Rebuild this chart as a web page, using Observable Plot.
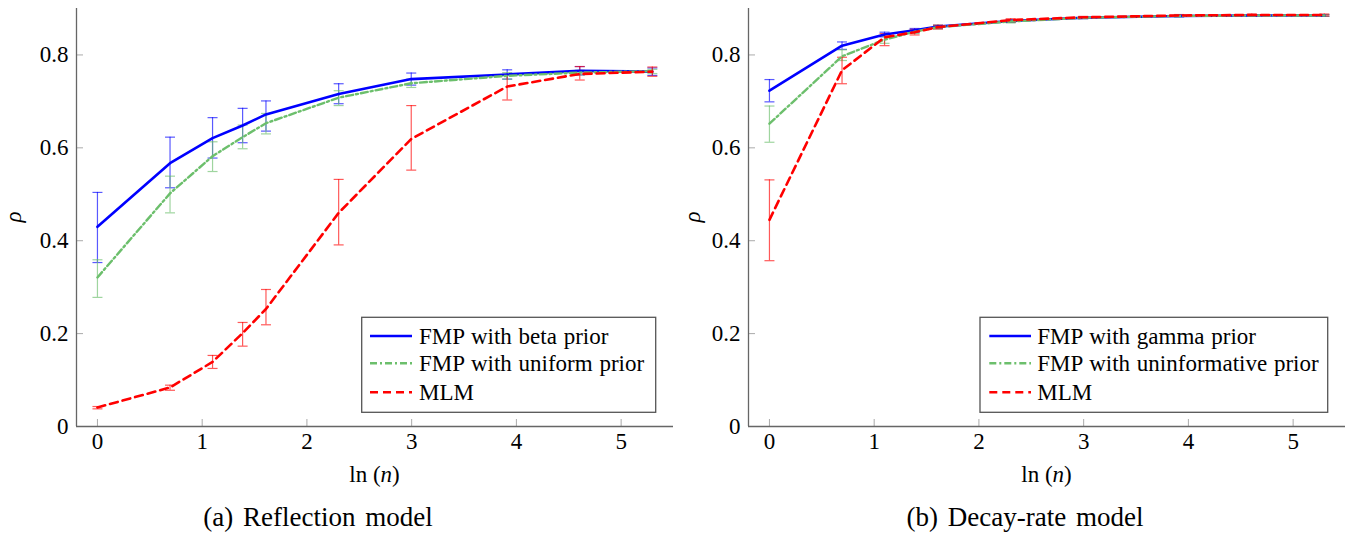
<!DOCTYPE html>
<html><head><meta charset="utf-8">
<script src="https://cdn.jsdelivr.net/npm/d3@7"></script>
<script src="https://cdn.jsdelivr.net/npm/@observablehq/plot@0.6"></script>
<style>
body{margin:0;background:#fff;}
#wrap{position:relative;width:1350px;height:533px;overflow:hidden;font-family:"Liberation Serif","Times New Roman",Times,"DejaVu Serif",serif;}
.panel{position:absolute;top:0;}
#overlay{position:absolute;left:0;top:0;}
svg text{font-family:"Liberation Serif","Times New Roman",Times,"DejaVu Serif",serif;}
</style></head><body>
<div id="wrap">
<div id="pa" class="panel" style="left:0px"></div>
<div id="pb" class="panel" style="left:675px"></div>
<svg id="overlay" width="1350" height="533"></svg>
</div>
<script>
// ---- data ----
const xLn = [0, 0.693, 1.099, 1.386, 1.609, 2.303, 2.996, 3.912, 4.605, 5.298]; // ln(n), n = 1,2,3,4,5,10,20,50,100,200
const xTicks = [0, 1, 2, 3, 4, 5];
const yTicks = [0, 0.2, 0.4, 0.6, 0.8];
const yTickLabels = ["0", "0.2", "0.4", "0.6", "0.8"];
const xDomain = [-0.2, 5.5];
const yDomain = [0, 0.9];

// (a) Reflection model
const reflNames = ["FMP with beta prior", "FMP with uniform prior", "MLM"];
const reflBeta    = [0.430, 0.567, 0.621, 0.648, 0.672, 0.716, 0.748, 0.758, 0.766, 0.764];
const reflBetaLo  = [0.353, 0.514, 0.578, 0.611, 0.636, 0.695, 0.735, 0.748, 0.757, 0.756];
const reflBetaHi  = [0.504, 0.623, 0.665, 0.685, 0.701, 0.738, 0.761, 0.768, 0.775, 0.772];
const reflUnif    = [0.321, 0.502, 0.582, 0.623, 0.653, 0.708, 0.739, 0.755, 0.762, 0.765];
const reflUnifLo  = [0.278, 0.460, 0.549, 0.598, 0.630, 0.691, 0.730, 0.748, 0.757, 0.760];
const reflUnifHi  = [0.359, 0.539, 0.613, 0.649, 0.674, 0.723, 0.748, 0.762, 0.767, 0.769];
const reflMLM     = [0.041, 0.084, 0.139, 0.201, 0.253, 0.460, 0.619, 0.732, 0.759, 0.764];
const reflMLMLo   = [0.038, 0.078, 0.125, 0.173, 0.219, 0.391, 0.552, 0.703, 0.746, 0.754];
const reflMLMHi   = [0.043, 0.089, 0.153, 0.224, 0.295, 0.532, 0.691, 0.758, 0.775, 0.774];

// (b) Decay-rate model
const decayNames = ["FMP with gamma prior", "FMP with uninformative prior", "MLM"];
const decayGamma   = [0.723, 0.820, 0.844, 0.853, 0.861, 0.873, 0.880, 0.884, 0.885, 0.885];
const decayGammaLo = [0.699, 0.812, 0.839, 0.848, 0.857, 0.870, 0.878, 0.882, 0.883, 0.883];
const decayGammaHi = [0.747, 0.828, 0.849, 0.857, 0.864, 0.876, 0.882, 0.886, 0.887, 0.887];
const decayUninf   = [0.652, 0.797, 0.833, 0.850, 0.860, 0.872, 0.880, 0.884, 0.885, 0.885];
const decayUninfLo = [0.612, 0.788, 0.825, 0.846, 0.856, 0.869, 0.878, 0.882, 0.883, 0.883];
const decayUninfHi = [0.690, 0.811, 0.840, 0.854, 0.864, 0.875, 0.882, 0.886, 0.887, 0.887];
const decayMLM     = [0.445, 0.767, 0.838, 0.849, 0.860, 0.875, 0.881, 0.885, 0.886, 0.886];
const decayMLMLo   = [0.357, 0.738, 0.820, 0.843, 0.856, 0.871, 0.879, 0.883, 0.884, 0.884];
const decayMLMHi   = [0.531, 0.795, 0.846, 0.855, 0.864, 0.878, 0.883, 0.887, 0.888, 0.888];

const captions = ["(a) Reflection model", "(b) Decay-rate model"];

// ---- styles ----
const FONT = '"Liberation Serif", "Times New Roman", Times, "DejaVu Serif", serif';
const styles = [
  {color: "#0000ff", dash: null, width: 2.6},
  {color: "#6cbf6c", dash: "7,3,2,3", width: 2.4},
  {color: "#ff0000", dash: "8,5", width: 2.6}
];

const cap = {draw(ctx, size) { const r = Math.sqrt(size / Math.PI); ctx.moveTo(-r, 0); ctx.lineTo(r, 0); }};

function makePanel(series, opts) {
  const marks = [];
  series.forEach((s, k) => {
    const st = styles[k];
    const rows = xLn.map((x, i) => ({x, y: s.y[i], lo: s.lo[i], hi: s.hi[i]}));
    marks.push(Plot.ruleX(rows, {x: "x", y1: "lo", y2: "hi", stroke: st.color, strokeOpacity: 0.65, strokeWidth: 1.2}));
    marks.push(Plot.dot(rows, {x: "x", y: "lo", symbol: cap, r: 5, fill: "none", stroke: st.color, strokeOpacity: 0.65, strokeWidth: 1.2}));
    marks.push(Plot.dot(rows, {x: "x", y: "hi", symbol: cap, r: 5, fill: "none", stroke: st.color, strokeOpacity: 0.65, strokeWidth: 1.2}));
  });
  series.forEach((s, k) => {
    const st = styles[k];
    const rows = xLn.map((x, i) => ({x, y: s.y[i]}));
    marks.push(Plot.line(rows, {x: "x", y: "y", stroke: st.color, strokeWidth: st.width, strokeDasharray: st.dash}));
  });
  marks.push(Plot.axisX({ticks: xTicks, tickSize: -7, tickPadding: 13, stroke: "#aaa", fill: "black", fontSize: 23, label: null, tickFormat: d => String(d)}));
  marks.push(Plot.axisY({ticks: yTicks, tickSize: -7, tickPadding: 15, stroke: "#aaa", fill: "black", fontSize: 23, label: null, tickFormat: d => yTickLabels[yTicks.indexOf(d)]}));
  marks.push(Plot.ruleX([xDomain[0]], {stroke: "#666", strokeWidth: 1.3}));
  marks.push(Plot.ruleY([yDomain[0]], {stroke: "#666", strokeWidth: 1.3}));
  return Plot.plot({
    width: opts.width, height: 490,
    marginLeft: opts.ml, marginRight: opts.mr, marginTop: 8, marginBottom: 64,
    x: {domain: xDomain},
    y: {domain: yDomain},
    style: {fontFamily: FONT, fontSize: "23px", background: "transparent", overflow: "visible", color: "black"},
    marks
  });
}

const panelA = makePanel([
  {y: reflBeta, lo: reflBetaLo, hi: reflBetaHi},
  {y: reflUnif, lo: reflUnifLo, hi: reflUnifHi},
  {y: reflMLM, lo: reflMLMLo, hi: reflMLMHi}
], {width: 690, ml: 76, mr: 17});
document.getElementById("pa").appendChild(panelA);

const panelB = makePanel([
  {y: decayGamma, lo: decayGammaLo, hi: decayGammaHi},
  {y: decayUninf, lo: decayUninfLo, hi: decayUninfHi},
  {y: decayMLM, lo: decayMLMLo, hi: decayMLMHi}
], {width: 675, ml: 73, mr: 5});
document.getElementById("pb").appendChild(panelB);

// ---- overlay: labels, legends, captions ----
const ov = d3.select("#overlay").style("font-family", FONT);

const layout = [
  {names: reflNames, box: [361.7, 317.3, 294, 95], lineX: [370, 412], textX: 419, xlabX: 374.5, rhoX: 15, capX: 318},
  {names: decayNames, box: [980, 317.3, 347.7, 95], lineX: [989.3, 1031], textX: 1037.3, xlabX: 1046.5, rhoX: 694, capX: 1025}
];
const rowLineY = [336, 363.3, 392.3];
const rowTextY = [343.5, 371.2, 399.5];

layout.forEach((L, p) => {
  ov.append("rect").attr("x", L.box[0]).attr("y", L.box[1]).attr("width", L.box[2]).attr("height", L.box[3])
    .attr("fill", "white").attr("stroke", "#555").attr("stroke-width", 1.3);
  L.names.forEach((name, k) => {
    const st = styles[k];
    ov.append("line").attr("x1", L.lineX[0]).attr("x2", L.lineX[1]).attr("y1", rowLineY[k]).attr("y2", rowLineY[k])
      .attr("stroke", st.color).attr("stroke-width", st.width).attr("stroke-dasharray", st.dash);
    ov.append("text").attr("x", L.textX).attr("y", rowTextY[k]).attr("font-size", 23).attr("word-spacing", 1).attr("fill", "black").text(name);
  });
  const xl = ov.append("text").attr("x", L.xlabX).attr("y", 482).attr("text-anchor", "middle").attr("font-size", 23);
  xl.append("tspan").text("ln (");
  xl.append("tspan").attr("font-style", "italic").text("n");
  xl.append("tspan").text(")");
  ov.append("text").attr("transform", `translate(${L.rhoX + 6},217) rotate(-90)`).attr("text-anchor", "middle")
    .attr("font-size", 23).attr("font-style", "italic").text("ρ");
  ov.append("text").attr("x", L.capX).attr("y", 526).attr("text-anchor", "middle").attr("font-size", 27)
    .attr("word-spacing", 3).text(captions[p]);
});
</script>
</body></html>
